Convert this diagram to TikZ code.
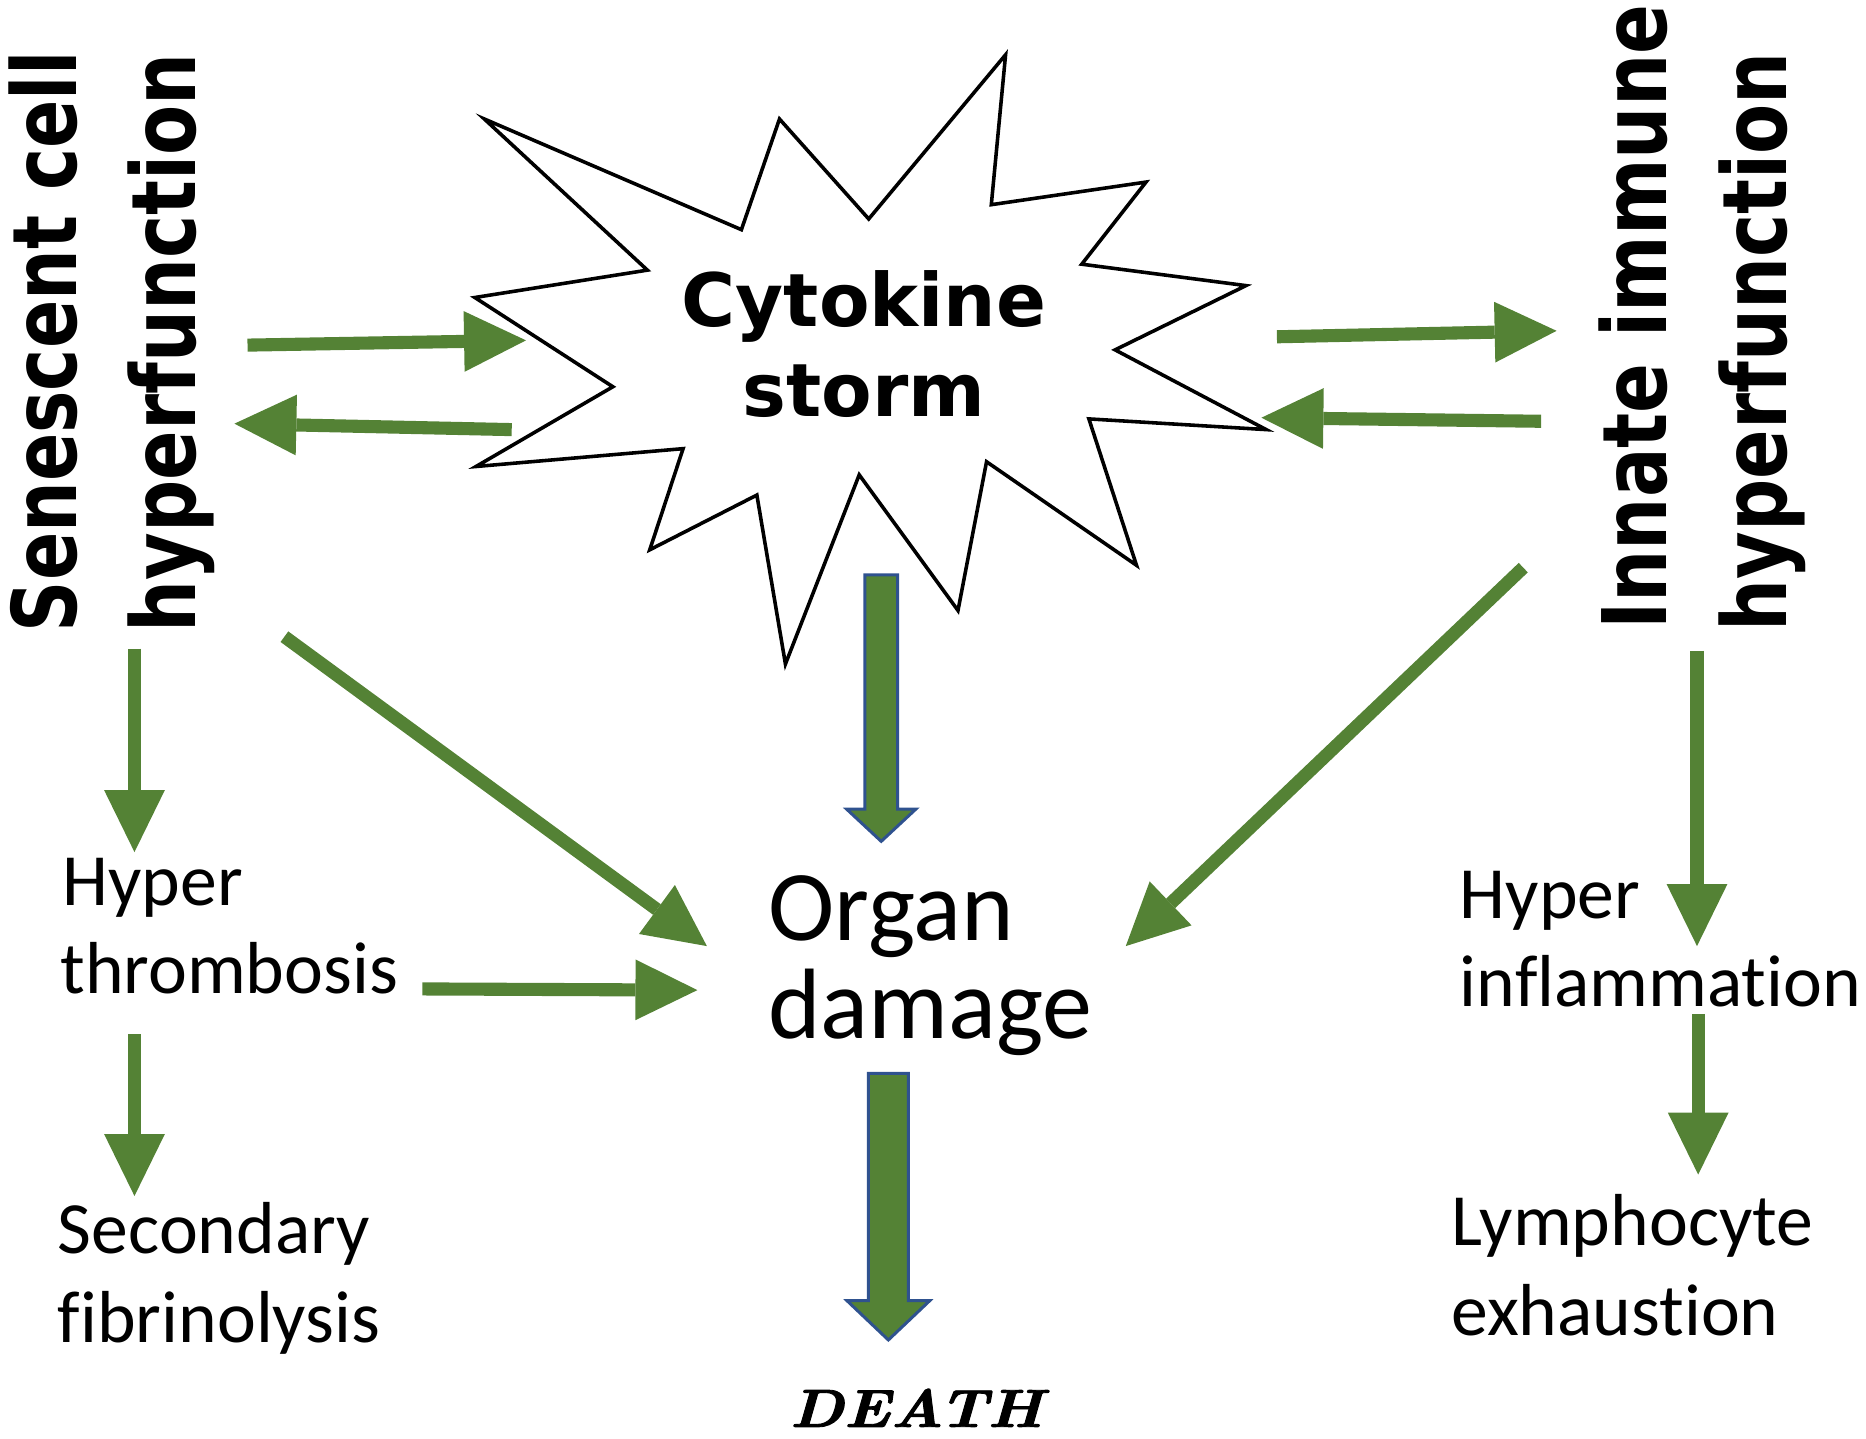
\documentclass[tikz,border=0pt]{standalone}
\usepackage{fontspec}
\usepackage{graphicx}
\usetikzlibrary{arrows.meta}
\newfontfamily\calibrifont{Carlito}[Ligatures=NoCommon]
\newfontfamily\verdanafont{DejaVu Sans}
\newfontfamily\deathfont{Latin Modern Roman}[FakeBold=1.6]
\definecolor{leafgreen}{RGB}{84,130,53}
\definecolor{rimblue}{RGB}{47,82,143}

\begin{document}
\begin{tikzpicture}[
    x=0.01cm, y=-0.01cm,
    thinarrow/.style={leafgreen, line width=0.11cm,
      -{Triangle[length=0.52cm, width=0.51cm, line width=0pt]}},
    fatarrow/.style={fill=leafgreen, draw=rimblue, line width=0.025cm, line join=miter},
    sidelabel/.style={inner sep=0pt, anchor=base west, rotate=90,
      font=\verdanafont\bfseries\fontsize{21.3pt}{25pt}\selectfont},
    stormlabel/.style={inner sep=0pt, anchor=base,
      font=\verdanafont\bfseries\fontsize{17.6pt}{21pt}\selectfont},
    effectlabel/.style={inner sep=0pt, anchor=base west,
      font=\calibrifont\fontsize{17.6pt}{21pt}\selectfont},
    organlabel/.style={inner sep=0pt, anchor=base west,
      font=\calibrifont\fontsize{23.9pt}{28pt}\selectfont}]

  \useasboundingbox (0,0) rectangle (1568,1209);

  % cytokine storm burst
  \draw [black, fill=white, line width=0.03cm, line join=miter]
    (407,100) -- (623,193) -- (655,100) -- (730,184) -- (845,46) --
    (833,172) -- (963,153) -- (909,222) -- (1047,240) -- (937,294) --
    (1064,361) -- (915,352) -- (955,475) -- (829,388) -- (805,513) --
    (722,399) -- (660,558) -- (636,416) -- (546,462) -- (574,377) --
    (400,392) -- (515,325) -- (399,250) -- (544,227) -- cycle;

  \node [stormlabel] (cyt1) at (726,274) {Cytokine};
  \node [stormlabel] (cyt2) at (726,350) {storm};

  % rotated side labels
  \node [sidelabel] (sen1) at (64,532) {\scalebox{0.8}[1]{Senescent cell}};
  \node [sidelabel] (sen2) at (164,532) {\scalebox{0.82}[1]{hyperfunction}};
  \node [sidelabel] (inn1) at (1400,530) {\scalebox{0.825}[1]{Innate immune}};
  \node [sidelabel] (inn2) at (1501,531) {\scalebox{0.82}[1]{hyperfunction}};

  % effects
  \node [effectlabel] (thr1) at (52,761) {Hyper};
  \node [effectlabel] (thr2) at (50,835) {thrombosis};
  \node [effectlabel] (fib1) at (48,1053) {Secondary};
  \node [effectlabel] (fib2) at (48,1128) {fibrinolysis};
  \node [effectlabel] (inf1) at (1226,772) {Hyper};
  \node [effectlabel] (inf2) at (1226,846) {inflammation};
  \node [effectlabel] (lym1) at (1219,1047) {Lymphocyte};
  \node [effectlabel] (lym2) at (1219,1122) {exhaustion};

  \node [organlabel] (org1) at (645,790) {Organ};
  \node [organlabel] (org2) at (645,873) {damage};

  \node [inner sep=0pt, anchor=base west,
    font=\deathfont\bfseries\itshape\fontsize{12.8pt}{15pt}\selectfont]
    (death) at (663,1199) {\scalebox{1.15}[1]{DEATH}};

  % arrow ends
  \coordinate (sen-o1) at (208,290);  \coordinate (cyt-i1) at (442,286);
  \coordinate (cyt-o1) at (430,361);  \coordinate (sen-i1) at (197,356);
  \coordinate (cyt-o2) at (1073,283); \coordinate (inn-i1) at (1308,278);
  \coordinate (inn-o1) at (1295,354); \coordinate (cyt-i2) at (1060,351);
  \coordinate (sen-o2) at (113,545);  \coordinate (thr-i)  at (113,716);
  \coordinate (thr-o1) at (113,869);  \coordinate (fib-i)  at (113,1005);
  \coordinate (thr-o2) at (355,831);  \coordinate (org-i1) at (586,832);
  \coordinate (sen-o3) at (239,535);  \coordinate (org-i2) at (594,795);
  \coordinate (inn-o2) at (1280,477); \coordinate (org-i3) at (946,795);
  \coordinate (inn-o3) at (1426,547); \coordinate (inf-i)  at (1426,795);
  \coordinate (inf-o)  at (1427,852); \coordinate (lym-i)  at (1427,987);

  % green arrows
  \foreach \a/\b in {sen-o1/cyt-i1, cyt-o1/sen-i1, cyt-o2/inn-i1, inn-o1/cyt-i2,
    sen-o2/thr-i, thr-o1/fib-i, thr-o2/org-i1, sen-o3/org-i2, inn-o2/org-i3,
    inn-o3/inf-i, inf-o/lym-i}
    \draw [thinarrow] (\a) -- (\b);

  % block arrows: storm -> organ, organ -> death
  \foreach \cx/\ytop/\ybase/\ytip/\hs/\hh in
    {740.5/483/680/707/13.75/29, 746.5/902/1093/1126/16.75/34.75}{
    \draw [fatarrow]
    (\cx-\hs, \ytop) --
    (\cx+\hs, \ytop) --
    (\cx+\hs, \ybase) --
    (\cx+\hh, \ybase) --
    (\cx, \ytip) --
    (\cx-\hh, \ybase) --
    (\cx-\hs, \ybase) --
    cycle;
  }
\end{tikzpicture}
\end{document}
